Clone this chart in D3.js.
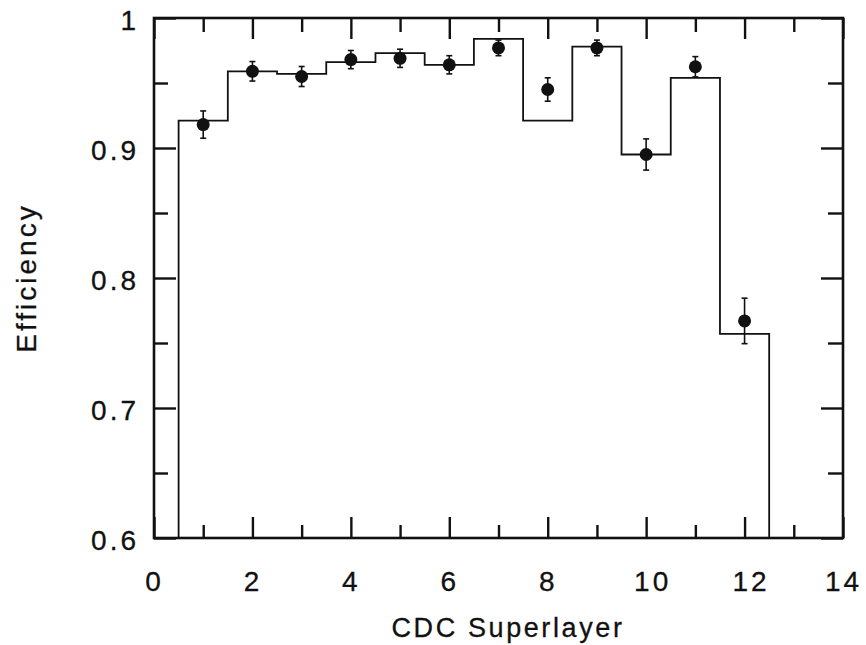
<!DOCTYPE html>
<html>
<head>
<meta charset="utf-8">
<script src="https://cdn.jsdelivr.net/npm/d3@7"></script>
<style>
  html, body { margin: 0; padding: 0; background: #fff; }
  svg { display: block; }
  text { font-family: "Liberation Sans", Arial, Helvetica, sans-serif; fill: #111; stroke: #111; stroke-width: 0.3px; }
</style>
</head>
<body>
<svg id="chart"></svg>
<script>
// superlayer number, measured efficiency, its error, and simulation histogram
let layers = [1, 2, 3, 4, 5, 6, 7, 8, 9, 10, 11, 12]
let eff = [0.918, 0.959, 0.955, 0.968, 0.969, 0.964, 0.977, 0.945, 0.977, 0.895, 0.9625, 0.767]
let effErr = [0.0105, 0.0075, 0.0077, 0.007, 0.007, 0.007, 0.006, 0.009, 0.006, 0.012, 0.0078, 0.0175]
let histo = [0.921, 0.959, 0.957, 0.966, 0.973, 0.964, 0.984, 0.921, 0.978, 0.895, 0.954, 0.757]

let xMajor = [0, 2, 4, 6, 8, 10, 12, 14]
let xMinor = [1, 3, 5, 7, 9, 11, 13]
let yMajor = [0.6, 0.7, 0.8, 0.9, 1]
let yMinor = [0.65, 0.75, 0.85, 0.95]

let width = 866
let height = 645
let padLeft = 154, padRight = 843, padTop = 18, padBottom = 538

let svg = d3.select('#chart').attr('width', width).attr('height', height)

let xScale = d3.scaleLinear().domain([0, 14]).range([padLeft, padRight])
let yScale = d3.scaleLinear().domain([0.6, 1]).range([padBottom, padTop])

// ticks on all four sides, pointing inward
let tickStyle = (g) => {
    g.select('.domain').remove()
    g.selectAll('.tick line').attr('stroke', '#111').attr('stroke-width', 2.4)
    g.selectAll('.tick text')
        .style('font-size', '28px')
        .style('letter-spacing', '3px')
}

svg.append('g')
    .attr('transform', `translate(0, ${padBottom})`)
    .call(d3.axisBottom(xScale).tickValues(xMajor).tickSize(-21).tickPadding(33).tickFormat(d3.format('d')))
    .call(tickStyle)
    .selectAll('.tick text').attr('dx', (d) => (d === 10 || d === 12) ? 6 : 0) // these two sit a little right
svg.append('g')
    .attr('transform', `translate(0, ${padBottom})`)
    .call(d3.axisBottom(xScale).tickValues(xMinor).tickSize(-13).tickFormat(''))
    .call(tickStyle)
svg.append('g')
    .attr('transform', `translate(0, ${padTop})`)
    .call(d3.axisTop(xScale).tickValues(xMajor).tickSize(-21).tickFormat(''))
    .call(tickStyle)
svg.append('g')
    .attr('transform', `translate(0, ${padTop})`)
    .call(d3.axisTop(xScale).tickValues(xMinor).tickSize(-14).tickFormat(''))
    .call(tickStyle)

svg.append('g')
    .attr('transform', `translate(${padLeft}, 0)`)
    .call(d3.axisLeft(yScale).tickValues(yMajor).tickSize(-22).tickPadding(15).tickFormat((d) => d === 1 ? '1' : d3.format('.1f')(d)))
    .call(tickStyle)
    .selectAll('.tick text').attr('dy', '0.42em')
svg.append('g')
    .attr('transform', `translate(${padLeft}, 0)`)
    .call(d3.axisLeft(yScale).tickValues(yMinor).tickSize(-14).tickFormat(''))
    .call(tickStyle)
svg.append('g')
    .attr('transform', `translate(${padRight}, 0)`)
    .call(d3.axisRight(yScale).tickValues(yMajor).tickSize(-22).tickFormat(''))
    .call(tickStyle)
svg.append('g')
    .attr('transform', `translate(${padRight}, 0)`)
    .call(d3.axisRight(yScale).tickValues(yMinor).tickSize(-15).tickFormat(''))
    .call(tickStyle)

// frame
svg.append('rect')
    .attr('x', padLeft).attr('y', padTop)
    .attr('width', padRight - padLeft).attr('height', padBottom - padTop)
    .attr('fill', 'none').attr('stroke', '#111').attr('stroke-width', 2.6)

// step histogram, dropping to the axis at both ends
let steps = [[layers[0] - 0.5, 0.6]]
layers.forEach((l, i) => {
    steps.push([l - 0.5, histo[i]])
    steps.push([l + 0.5, histo[i]])
})
steps.push([layers[layers.length - 1] + 0.5, 0.6])

svg.append('path')
    .datum(steps)
    .attr('d', d3.line().x((d) => xScale(d[0])).y((d) => yScale(d[1])))
    .attr('fill', 'none')
    .attr('stroke', '#111')
    .attr('stroke-width', 1.8)

// data points with error bars
let pts = layers.map((l, i) => ({ x: l, y: eff[i], e: effErr[i] }))
let bars = svg.append('g').attr('stroke', '#111').attr('stroke-width', 1.6)
bars.selectAll('line.bar')
    .data(pts).enter().append('line')
    .attr('class', 'bar')
    .attr('x1', (d) => xScale(d.x)).attr('x2', (d) => xScale(d.x))
    .attr('y1', (d) => yScale(d.y - d.e)).attr('y2', (d) => yScale(d.y + d.e))
bars.selectAll('line.capTop')
    .data(pts).enter().append('line')
    .attr('class', 'capTop')
    .attr('x1', (d) => xScale(d.x) - 3).attr('x2', (d) => xScale(d.x) + 3)
    .attr('y1', (d) => yScale(d.y + d.e)).attr('y2', (d) => yScale(d.y + d.e))
bars.selectAll('line.capBot')
    .data(pts).enter().append('line')
    .attr('class', 'capBot')
    .attr('x1', (d) => xScale(d.x) - 3).attr('x2', (d) => xScale(d.x) + 3)
    .attr('y1', (d) => yScale(d.y - d.e)).attr('y2', (d) => yScale(d.y - d.e))

svg.selectAll('circle.dot')
    .data(pts).enter().append('circle')
    .attr('class', 'dot')
    .attr('cx', (d) => xScale(d.x))
    .attr('cy', (d) => yScale(d.y))
    .attr('r', 6.5)
    .attr('fill', '#111')

// axis titles
svg.append('text')
    .attr('x', 508)
    .attr('y', 637)
    .attr('text-anchor', 'middle')
    .style('font-size', '27px')
    .style('letter-spacing', '2.6px')
    .text('CDC Superlayer')

svg.append('text')
    .attr('transform', `translate(36, ${(padTop + padBottom) / 2}) rotate(-90)`)
    .attr('text-anchor', 'middle')
    .style('font-size', '28px')
    .style('letter-spacing', '3px')
    .text('Efficiency')
</script>
</body>
</html>
